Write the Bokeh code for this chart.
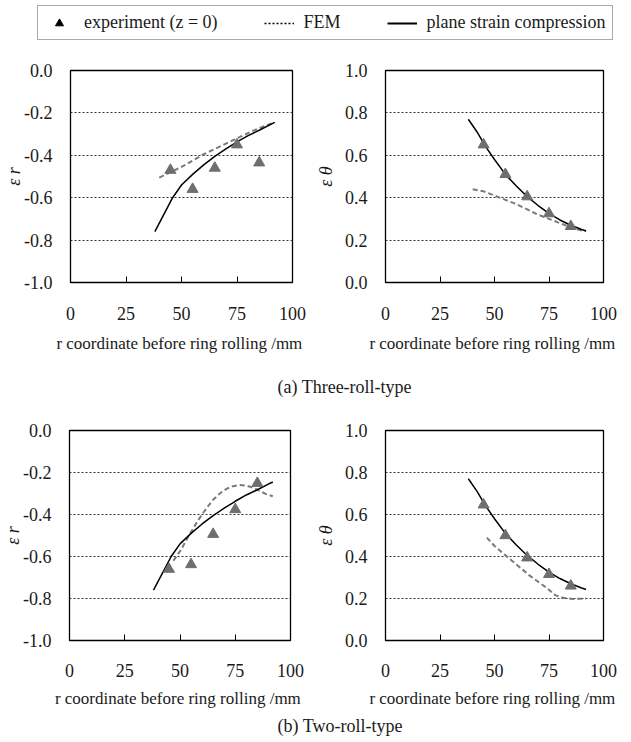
from bokeh.plotting import figure
from bokeh.layouts import column, row
from bokeh.models import FixedTicker, PrintfTickFormatter, Range1d, Legend, LegendItem
from bokeh.embed import file_html
from bokeh.resources import INLINE
from bokeh.core.properties import value

# ---------------- data ----------------
x_ticks = [0, 25, 50, 75, 100]
er_ticks = [-1.0, -0.8, -0.6, -0.4, -0.2, 0.0]
et_ticks = [0.0, 0.2, 0.4, 0.6, 0.8, 1.0]

exp_r = [45, 55, 65, 75, 85]
three_exp_er = [-0.47, -0.56, -0.46, -0.35, -0.435]
three_exp_et = [0.65, 0.51, 0.405, 0.325, 0.265]
two_exp_er = [-0.66, -0.638, -0.494, -0.376, -0.251]
two_exp_et = [0.646, 0.50, 0.394, 0.315, 0.26]

psc_r = [38, 42, 46, 50, 55, 60, 65, 70, 75, 80, 85, 90, 92]
psc_er = [-0.76, -0.68, -0.60, -0.54, -0.49, -0.445, -0.405, -0.37, -0.337, -0.307, -0.282, -0.255, -0.245]
psc_et = [0.77, 0.71, 0.64, 0.58, 0.51, 0.455, 0.405, 0.363, 0.326, 0.295, 0.27, 0.25, 0.243]

three_fem_r = [40, 45, 50, 55, 60, 65, 70, 75, 80, 85, 90, 92]
three_fem_er = [-0.505, -0.48, -0.455, -0.425, -0.395, -0.37, -0.345, -0.32, -0.295, -0.272, -0.252, -0.245]
three_fem_et = [0.44, 0.43, 0.41, 0.39, 0.37, 0.345, 0.32, 0.30, 0.28, 0.26, 0.245, 0.243]

two_fem_er_r = [47, 50, 53, 56, 59, 62, 65, 68, 71, 74, 77, 80, 83, 86, 89, 92]
two_fem_er = [-0.62, -0.575, -0.52, -0.465, -0.415, -0.37, -0.33, -0.30, -0.278, -0.265, -0.26, -0.262, -0.272, -0.288, -0.303, -0.313]
two_fem_et_r = [46.5, 50, 54, 58, 62, 66, 70, 74, 78, 82, 86, 90, 92]
two_fem_et = [0.49, 0.45, 0.415, 0.38, 0.345, 0.31, 0.28, 0.25, 0.215, 0.202, 0.198, 0.199, 0.2]

x_title = "r  coordinate before ring rolling /mm"
FONT = "Liberation Serif"
TXT = "#1a1a1a"


def panel(w, h, bl, br, bt, bb, ylo, yhi, yticks, ylabel, ylab_standoff,
          xlab_standoff, xtitle_standoff, fem_r, fem_v, ps_v, ex_v):
    p = figure(width=w, height=h, x_range=Range1d(0, 100), y_range=Range1d(ylo, yhi),
               output_backend="svg", toolbar_location=None,
               min_border_left=bl, min_border_right=br, min_border_top=bt, min_border_bottom=bb)
    p.outline_line_color = "black"
    p.outline_line_width = 1.3
    p.background_fill_color = "white"
    p.border_fill_color = "white"
    p.xgrid.visible = False
    p.ygrid.grid_line_color = "#333333"
    p.ygrid.grid_line_dash = "2 2"
    p.ygrid.grid_line_width = 1

    xa = p.xaxis[0]
    xa.ticker = FixedTicker(ticks=x_ticks)
    xa.major_tick_in = 6
    xa.major_tick_out = 0
    xa.minor_tick_in = 0
    xa.minor_tick_out = 0
    xa.axis_line_color = "black"
    xa.major_tick_line_color = "black"
    xa.major_label_text_font = FONT
    xa.major_label_text_font_size = "18px"
    xa.major_label_text_color = TXT
    xa.major_label_standoff = xlab_standoff
    xa.axis_label = x_title
    xa.axis_label_text_font = FONT
    xa.axis_label_text_font_style = "normal"
    xa.axis_label_text_font_size = "17px"
    xa.axis_label_text_color = TXT
    xa.axis_label_standoff = xtitle_standoff

    ya = p.yaxis[0]
    ya.ticker = FixedTicker(ticks=yticks)
    ya.formatter = PrintfTickFormatter(format="%.1f")
    ya.major_tick_in = 0
    ya.major_tick_out = 0
    ya.minor_tick_in = 0
    ya.minor_tick_out = 0
    ya.axis_line_color = "black"
    ya.major_label_text_font = FONT
    ya.major_label_text_font_size = "18px"
    ya.major_label_text_color = TXT
    ya.major_label_standoff = 18
    ya.axis_label = ylabel
    ya.axis_label_text_font = FONT
    ya.axis_label_text_font_style = "italic"
    ya.axis_label_text_font_size = "18px"
    ya.axis_label_text_color = TXT
    ya.axis_label_standoff = ylab_standoff

    p.line(fem_r, fem_v, line_color="#7a7a7a", line_width=2, line_dash="5 3")
    p.line(psc_r, ps_v, line_color="black", line_width=1.5)
    p.scatter(exp_r, ex_v, marker="triangle", size=11, fill_color="#6e6e6e", line_color="#6e6e6e")
    return p


# top row  (page y 44..362)
p1 = panel(309, 318, 70, 17, 26, 80, -1.0, 0.0, er_ticks, "ε r", -3, 24, 11,
           three_fem_r, three_fem_er, psc_er, three_exp_er)
p2 = panel(322, 318, 76, 28, 26, 80, 0.0, 1.0, et_ticks, "ε θ", 6, 24, 11,
           three_fem_r, three_fem_et, psc_et, three_exp_et)
# bottom row (page y 402..710)
p3 = panel(309, 308, 69, 19, 28, 67, -1.0, 0.0, er_ticks, "ε r", -3, 23, 9,
           two_fem_er_r, two_fem_er, psc_er, two_exp_er)
p4 = panel(322, 308, 76, 28, 28, 67, 0.0, 1.0, et_ticks, "ε θ", 6, 23, 9,
           two_fem_et_r, two_fem_et, psc_et, two_exp_et)

# legend strip
lg = figure(width=631, height=44, x_range=Range1d(0, 1), y_range=Range1d(0, 1),
            x_axis_type=None, y_axis_type=None, output_backend="svg",
            toolbar_location=None, min_border=0)
lg.outline_line_color = None
r_exp = lg.scatter(x=[-5], y=[-5], marker="triangle", size=13, fill_color="black", line_color="black")
r_fem = lg.line(x=[-5, -4], y=[-5, -4], line_color="black", line_width=1.3, line_dash="2 2")
r_psc = lg.line(x=[-5, -4], y=[-5, -4], line_color="black", line_width=2)
legend = Legend(items=[LegendItem(label="experiment (z = 0)", renderers=[r_exp]),
                       LegendItem(label="FEM", renderers=[r_fem]),
                       LegendItem(label="plane strain compression", renderers=[r_psc])],
                orientation="horizontal", location=(37, 4), margin=0, padding=6,
                spacing=46, glyph_width=30, glyph_height=20, label_standoff=10,
                label_text_font=FONT, label_text_font_size="18px", label_text_color=TXT,
                border_line_color="#555555", border_line_width=1.5,
                background_fill_alpha=0)
lg.add_layout(legend, "center")


def caption(h, ytxt, txt):
    c = figure(width=631, height=h, x_range=Range1d(0, 631), y_range=Range1d(0, h),
               x_axis_type=None, y_axis_type=None, output_backend="svg",
               toolbar_location=None, min_border=0)
    c.outline_line_color = None
    c.text(x=[277], y=[ytxt], text=[txt], text_font=value(FONT), text_font_size="18px",
           text_color=TXT, text_align="left", text_baseline="middle")
    return c


cap_a = caption(40, 40 - 24.7, "(a) Three-roll-type")
cap_b = caption(32, 17, "(b) Two-roll-type")

layout = column(lg, row(p1, p2), cap_a, row(p3, p4), cap_b)
open("out.html", "w").write(file_html(layout, INLINE))
